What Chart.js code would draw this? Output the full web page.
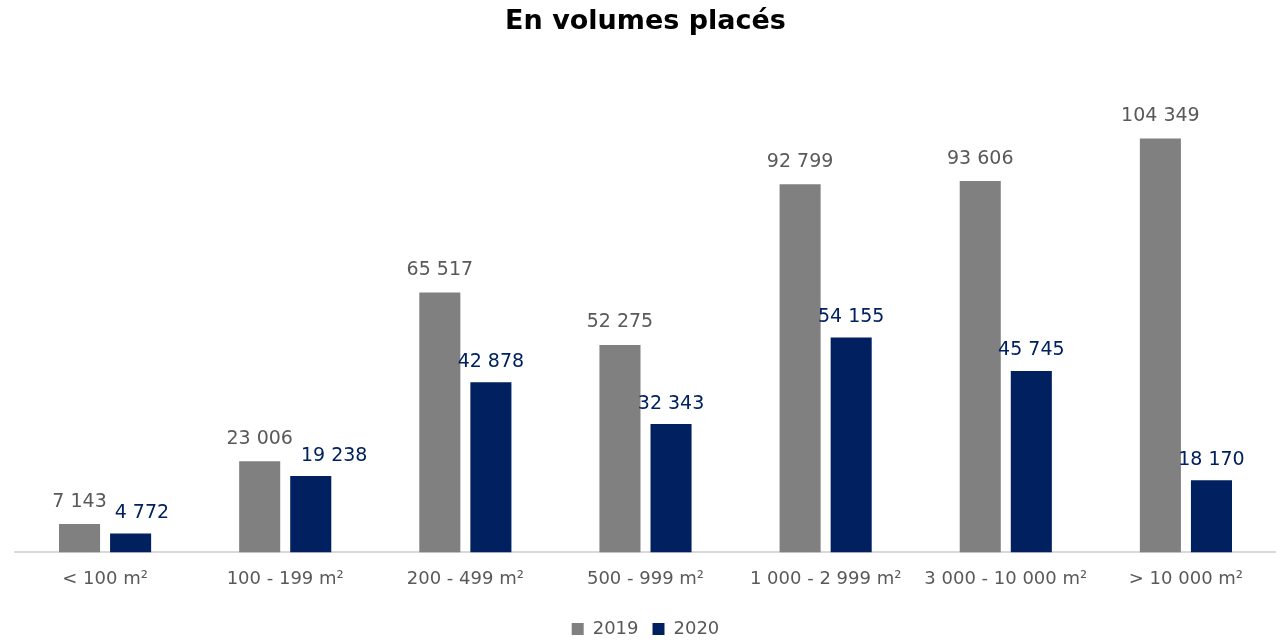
<!DOCTYPE html>
<html>
<head>
<meta charset="utf-8">
<script src="https://cdn.jsdelivr.net/npm/chart.js@4/dist/chart.umd.min.js"></script>
<style>
  html, body { margin: 0; padding: 0; background: #fff; }
  #wrap { width: 1276px; height: 640px; position: relative; }
</style>
</head>
<body>
<div id="wrap"><canvas id="chart1"></canvas></div>
<script>
let surfaces = ["< 100 m²","100 - 199 m²","200 - 499 m²","500 - 999 m²","1 000 - 2 999 m²","3 000 - 10 000 m²","> 10 000 m²"];
let vol2019 = [7143, 23006, 65517, 52275, 92799, 93606, 104349];
let vol2020 = [4772, 19238, 42878, 32343, 54155, 45745, 18170];

const gris = "#808080";
const bleu = "#002060";
const police = "'DejaVu Sans', sans-serif";

function espace(n){
  return String(n).replace(/\B(?=(\d{3})+(?!\d))/g, " ");
}

// valeurs au-dessus des barres ; l'étiquette 2020 glisse à droite si elle touche celle de 2019
const etiquettes = {
  id: "etiquettes",
  afterDatasetsDraw(chart){
    let ctx = chart.ctx;
    ctx.save();
    ctx.font = "19px " + police;
    ctx.textAlign = "center";
    ctx.textBaseline = "bottom";
    let grisMeta = chart.getDatasetMeta(0).data;
    let bleuMeta = chart.getDatasetMeta(1).data;
    let h = 19;
    surfaces.forEach((s, j) => {
      let t1 = espace(vol2019[j]), t2 = espace(vol2020[j]);
      let w1 = ctx.measureText(t1).width, w2 = ctx.measureText(t2).width;
      let x1 = grisMeta[j].x, y1 = grisMeta[j].y - 13;
      let x2 = bleuMeta[j].x, y2 = bleuMeta[j].y - 11;
      let droite1 = x1 + w1 / 2;
      let gauche2 = x2 - w2 / 2;
      if (Math.abs(y1 - y2) < h && gauche2 < droite1 + 8) {
        x2 += droite1 + 8 - gauche2;
      }
      ctx.fillStyle = "#595959";
      ctx.fillText(t1, x1, y1);
      ctx.fillStyle = bleu;
      ctx.fillText(t2, x2, y2);
    });
    ctx.restore();
  }
};

let chart1 = new Chart(document.getElementById("chart1"), {
  type: "bar",
  data: {
    labels: surfaces,
    datasets: [
      { label: "2019", data: vol2019, backgroundColor: gris },
      { label: "2020", data: vol2020, backgroundColor: bleu }
    ]
  },
  options: {
    responsive: true,
    maintainAspectRatio: false,
    animation: false,
    categoryPercentage: 0.567,
    barPercentage: 0.804,
    layout: { padding: { left: 15, right: 0, top: 0, bottom: -8 } },
    plugins: {
      title: {
        display: true,
        text: "En volumes placés",
        color: "#000",
        font: { family: police, size: 27, weight: "bold" },
        padding: { top: 6, bottom: 38 }
      },
      legend: {
        position: "bottom",
        labels: {
          color: "#595959",
          font: { family: police, size: 18 },
          boxWidth: 12,
          boxHeight: 12,
          padding: 14
        }
      },
      tooltip: { enabled: false }
    },
    scales: {
      x: {
        grid: { display: false, drawTicks: false },
        border: { color: "#d9d9d9", width: 2 },
        ticks: { color: "#595959", font: { family: police, size: 18 }, padding: 16 }
      },
      y: {
        display: false,
        min: 0,
        max: 120000
      }
    }
  },
  plugins: [etiquettes]
});
</script>
</body>
</html>
